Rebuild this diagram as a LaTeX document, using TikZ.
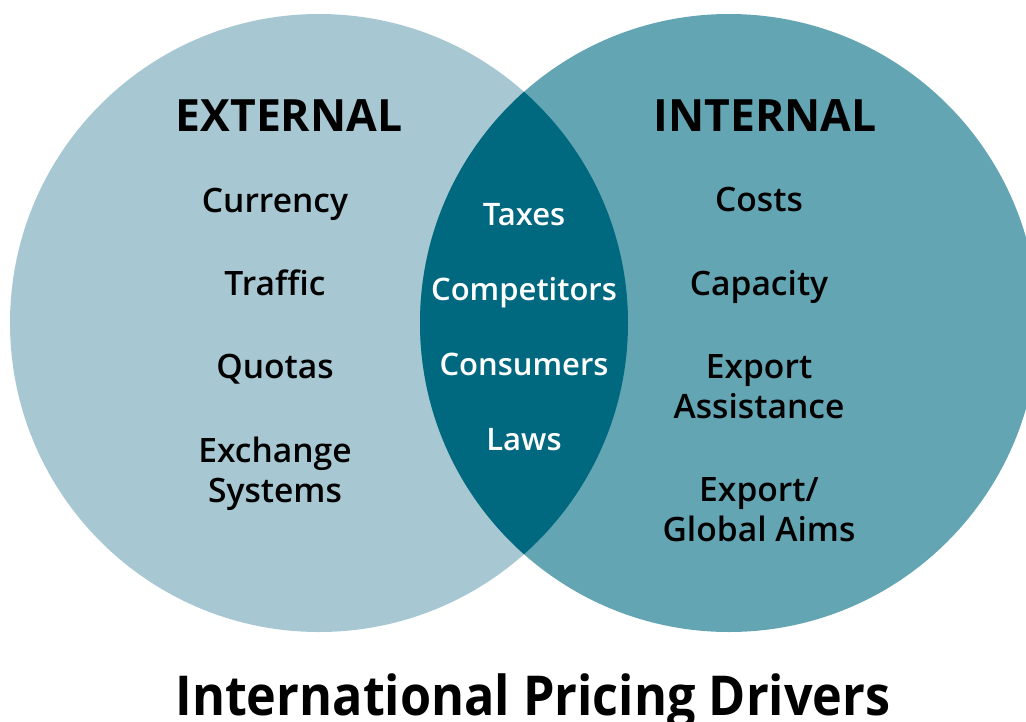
\documentclass[tikz,border=0pt]{standalone}
\usepackage{fontspec}
\setmainfont{Open Sans}
\newfontfamily\semifont{Open Sans Semibold}
\usepackage{tikz}

\definecolor{extfill}{RGB}{167,200,210}
\definecolor{intfill}{RGB}{100,165,179}
\definecolor{lensfill}{RGB}{0,104,127}

\begin{document}
\begin{tikzpicture}[x=1pt, y=-1pt,
    item/.style={anchor=base, align=center, inner sep=0pt, font=\semifont\fontsize{33.6}{40}\selectfont},
    midtext/.style={item, text=white, font=\semifont\fontsize{31}{38}\selectfont},
    head/.style={anchor=base, inner sep=0pt, font=\bfseries\fontsize{44.5}{50}\selectfont}]
        \useasboundingbox (0,0) rectangle (1026,721);
        \begin{scope}
            \clip (0,0) rectangle (1026,721);
            % the two circles
            \fill[extfill] (319,323) circle (309);
            \fill[intfill] (729,323) circle (309);
            % overlap
            \begin{scope}
                \clip (319,323) circle (309);
                \fill[lensfill] (729,323) circle (309);
            \end{scope}
        \end{scope}
        % headings
        \node[head] (ext) at (289,131) {EXTERNAL};
        \node[head] (int) at (765,131) {INTERNAL};
        % left side (base = last line)
        \node[item] (currency) at (275,212) {Currency};
        \node[item] (traffic) at (275,295) {Traffic};
        \node[item] (quotas) at (275,378) {Quotas};
        \node[item] (exchange) at (275,502) {Exchange\\Systems};
        % overlap
        \node[midtext] (taxes) at (524,225) {Taxes};
        \node[midtext] (competitors) at (524,300) {Competitors};
        \node[midtext] (consumers) at (524,375) {Consumers};
        \node[midtext] (laws) at (524,450) {Laws};
        % right side
        \node[item] (costs) at (759,211) {Costs};
        \node[item] (capacity) at (759,295) {Capacity};
        \node[item] (assist) at (759,418) {Export\\Assistance};
        \node[item] (aims) at (759,541) {Export/\\Global Aims};
        % title
        \node[anchor=base, inner sep=0pt, xscale=0.915, transform shape, font=\bfseries\fontsize{55}{60}\selectfont] (title) at (533,715) {International Pricing Drivers};
    \end{tikzpicture}
\end{document}
